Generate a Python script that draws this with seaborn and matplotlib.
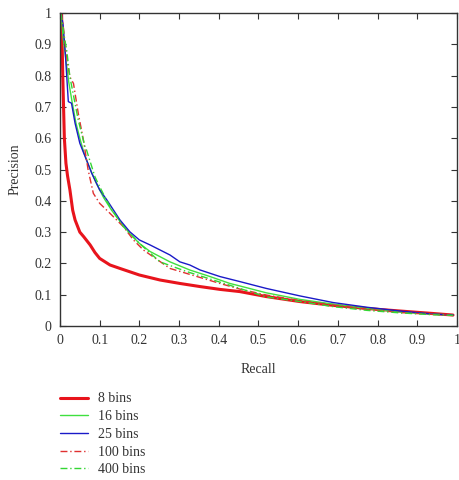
import pandas as pd
import matplotlib
matplotlib.use("Agg")
import matplotlib.pyplot as plt
import seaborn as sns

# --- curve data (recall, precision) ---
recall_8 = [0.004, 0.007, 0.011, 0.015, 0.019, 0.025, 0.032, 0.038, 0.050, 0.060, 0.076, 0.088, 0.100,
            0.126, 0.151, 0.200, 0.252, 0.302, 0.353, 0.403, 0.453, 0.520, 0.605, 0.688,
            0.773, 0.856, 0.940, 0.990]
prec_8 = [1.000, 0.800, 0.600, 0.520, 0.480, 0.435, 0.370, 0.339, 0.300, 0.285, 0.259, 0.235, 0.216,
          0.195, 0.184, 0.163, 0.147, 0.136, 0.126, 0.117, 0.110, 0.094, 0.078, 0.066,
          0.056, 0.048, 0.040, 0.035]

recall_16 = [0.003, 0.008, 0.015, 0.022, 0.030, 0.040, 0.050, 0.060, 0.070, 0.090, 0.110, 0.130,
             0.151, 0.176, 0.200, 0.227, 0.277, 0.327, 0.378, 0.428, 0.453, 0.520, 0.605, 0.688,
             0.773, 0.856, 0.940, 0.990]
prec_16 = [1.000, 0.920, 0.850, 0.780, 0.720, 0.650, 0.600, 0.555, 0.520, 0.460, 0.410, 0.370,
           0.335, 0.295, 0.264, 0.238, 0.205, 0.179, 0.158, 0.136, 0.128, 0.106, 0.085, 0.070,
           0.056, 0.045, 0.038, 0.035]

recall_25 = [0.003, 0.008, 0.013, 0.021, 0.029, 0.038, 0.050, 0.059, 0.067, 0.080, 0.100,
             0.118, 0.151, 0.176, 0.200, 0.227, 0.252, 0.277, 0.302, 0.327, 0.353, 0.403, 0.453,
             0.520, 0.605, 0.688, 0.773, 0.856, 0.940, 0.990]
prec_25 = [1.000, 0.960, 0.880, 0.717, 0.712, 0.648, 0.584, 0.555, 0.530, 0.488, 0.435,
           0.403, 0.339, 0.301, 0.275, 0.259, 0.243, 0.227, 0.205, 0.195, 0.179, 0.158, 0.142,
           0.120, 0.096, 0.075, 0.060, 0.048, 0.038, 0.035]

recall_100 = [0.003, 0.008, 0.013, 0.020, 0.025, 0.034, 0.046, 0.059, 0.071, 0.084, 0.100, 0.126,
              0.160, 0.185, 0.210, 0.235, 0.277, 0.319, 0.361, 0.403, 0.453, 0.520, 0.605, 0.688,
              0.773, 0.856, 0.940, 0.990]
prec_100 = [1.000, 0.960, 0.900, 0.830, 0.796, 0.775, 0.680, 0.594, 0.498, 0.424, 0.392, 0.360,
            0.317, 0.275, 0.243, 0.221, 0.184, 0.168, 0.152, 0.136, 0.118, 0.099, 0.081, 0.067,
            0.054, 0.043, 0.037, 0.034]

recall_400 = [0.003, 0.004, 0.010, 0.017, 0.025, 0.046, 0.063, 0.067, 0.088, 0.100, 0.126, 0.160,
              0.200, 0.252, 0.319, 0.386, 0.453, 0.520, 0.605, 0.688, 0.773, 0.856,
              0.940, 0.990]
prec_400 = [1.000, 0.983, 0.930, 0.880, 0.796, 0.658, 0.573, 0.562, 0.477, 0.445, 0.381, 0.317,
            0.264, 0.205, 0.174, 0.147, 0.120, 0.093, 0.078, 0.062, 0.050, 0.042,
            0.036, 0.034]

labels = ["8 bins", "16 bins", "25 bins", "100 bins", "400 bins"]
ticks = [0, 0.1, 0.2, 0.3, 0.4, 0.5, 0.6, 0.7, 0.8, 0.9, 1]
tick_labels = ["0", "0.1", "0.2", "0.3", "0.4", "0.5", "0.6", "0.7", "0.8", "0.9", "1"]

sns.set_theme(style="ticks")
plt.rcParams["font.family"] = ["Liberation Serif", "DejaVu Serif"]

fig = plt.figure(figsize=(4.6, 4.8), dpi=100)
ax = fig.add_axes([0.1304, 0.3208, 0.863, 0.652])

series = [
    (recall_8, prec_8, "#e8141c", 2.2, "-"),
    (recall_16, prec_16, "#3fe03f", 1.0, "-"),
    (recall_25, prec_25, "#1a1ac8", 1.0, "-"),
    (recall_100, prec_100, "#e03030", 1.0, (0, (5, 2, 1, 2))),
    (recall_400, prec_400, "#33d633", 1.0, (0, (5, 2, 1, 2))),
]
for (rx, py, col, lw, ls), lab in zip(series, labels):
    sns.lineplot(x=rx, y=py, ax=ax, color=col, linewidth=lw, linestyle=ls,
                 label=lab, sort=False, estimator=None, legend=False)

ax.set_xlim(0, 1)
ax.set_ylim(0, 1)
ax.set_xticks(ticks)
ax.set_xticklabels(tick_labels)
ax.set_yticks(ticks)
ax.set_yticklabels(tick_labels)
ax.tick_params(direction="in", top=True, right=True, length=4, width=0.8,
               labelsize=10, labelcolor="#333333", colors="#333333", pad=6)
for sp in ax.spines.values():
    sp.set_visible(True)
    sp.set_linewidth(1.0)
    sp.set_color("#333333")

ax.set_xlabel("Recall", fontsize=10, color="#333333", labelpad=11)
ax.set_ylabel("Precision", fontsize=10, color="#333333", labelpad=9)

handles, labs = ax.get_legend_handles_labels()
fig.legend(handles, labs, loc="upper left", bbox_to_anchor=(0.118, 0.194),
           frameon=False, fontsize=10, handlelength=2.0, labelspacing=0.34,
           handletextpad=0.75, borderaxespad=0, labelcolor="#333333")

fig.savefig("out.png", dpi=100)
